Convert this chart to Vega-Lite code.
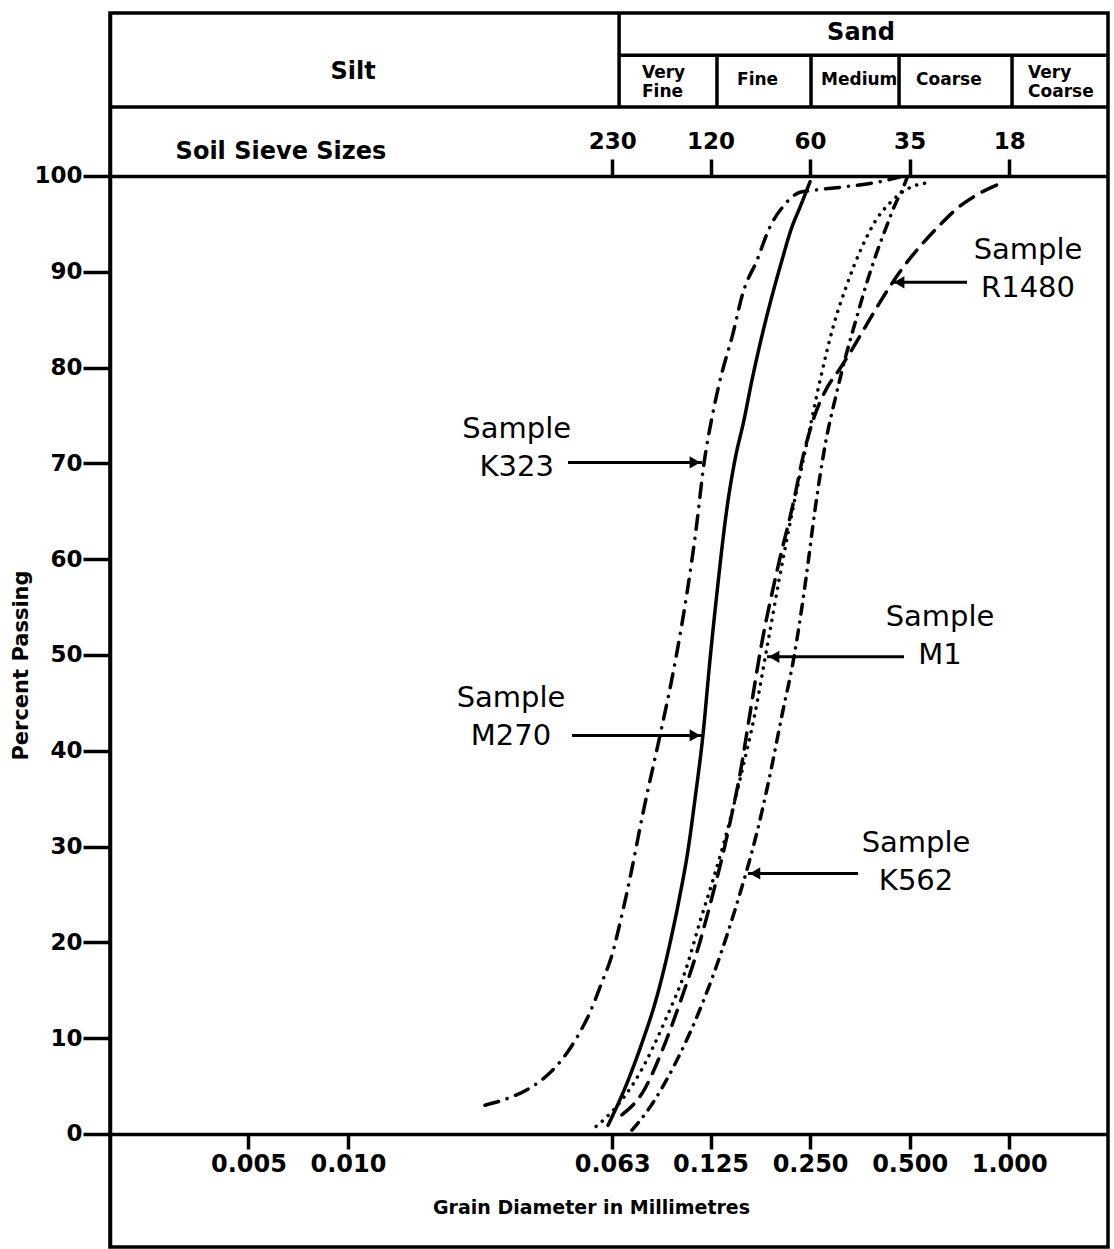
{
  "$schema": "https://vega.github.io/schema/vega-lite/v6.json",
  "width": 998,
  "height": 1234,
  "autosize": {"type": "none"},
  "padding": {"left": 110, "top": 13, "right": 6, "bottom": 2},
  "background": "white",
  "config": {
    "view": {"stroke": "black", "strokeWidth": 3.5},
    "axis": {
      "domainColor": "black", "domainWidth": 3.5, "tickColor": "black", "tickWidth": 3.5,
      "labelColor": "black", "labelFont": "DejaVu Sans", "labelFontWeight": "bold", "labelFontSize": 23,
      "titleColor": "black", "titleFont": "DejaVu Sans", "titleFontWeight": "bold",
      "grid": false, "labelFlush": false, "labelOverlap": false
    }
  },
  "datasets": {
    "curves": [
      {"sample": "K323", "d": 0.02598, "p": 3.0},
      {"sample": "K323", "d": 0.03092, "p": 3.8},
      {"sample": "K323", "d": 0.03555, "p": 4.8},
      {"sample": "K323", "d": 0.0403, "p": 6.2},
      {"sample": "K323", "d": 0.04473, "p": 7.9},
      {"sample": "K323", "d": 0.04932, "p": 10.1},
      {"sample": "K323", "d": 0.05398, "p": 12.7},
      {"sample": "K323", "d": 0.05828, "p": 15.6},
      {"sample": "K323", "d": 0.06293, "p": 18.7},
      {"sample": "K323", "d": 0.06743, "p": 22.9},
      {"sample": "K323", "d": 0.0718, "p": 27.2},
      {"sample": "K323", "d": 0.07806, "p": 33.5},
      {"sample": "K323", "d": 0.08789, "p": 41.6},
      {"sample": "K323", "d": 0.09623, "p": 48.1},
      {"sample": "K323", "d": 0.1061, "p": 56.5},
      {"sample": "K323", "d": 0.1129, "p": 63.0},
      {"sample": "K323", "d": 0.1194, "p": 70.0},
      {"sample": "K323", "d": 0.1271, "p": 75.3},
      {"sample": "K323", "d": 0.1325, "p": 78.2},
      {"sample": "K323", "d": 0.1462, "p": 83.6},
      {"sample": "K323", "d": 0.1566, "p": 87.8},
      {"sample": "K323", "d": 0.1727, "p": 91.2},
      {"sample": "K323", "d": 0.1891, "p": 94.7},
      {"sample": "K323", "d": 0.207, "p": 96.8},
      {"sample": "K323", "d": 0.2331, "p": 98.3},
      {"sample": "K323", "d": 0.2552, "p": 98.5},
      {"sample": "K323", "d": 0.3234, "p": 98.9},
      {"sample": "K323", "d": 0.4069, "p": 99.4},
      {"sample": "K323", "d": 0.4677, "p": 99.9},
      {"sample": "M270", "d": 0.0612, "p": 0.9},
      {"sample": "M270", "d": 0.06983, "p": 5.3},
      {"sample": "M270", "d": 0.07806, "p": 9.8},
      {"sample": "M270", "d": 0.08547, "p": 14.0},
      {"sample": "M270", "d": 0.09294, "p": 19.0},
      {"sample": "M270", "d": 0.1003, "p": 24.4},
      {"sample": "M270", "d": 0.1068, "p": 29.6},
      {"sample": "M270", "d": 0.1121, "p": 34.9},
      {"sample": "M270", "d": 0.1185, "p": 41.6},
      {"sample": "M270", "d": 0.1245, "p": 49.5},
      {"sample": "M270", "d": 0.1307, "p": 56.5},
      {"sample": "M270", "d": 0.1402, "p": 65.4},
      {"sample": "M270", "d": 0.1482, "p": 70.4},
      {"sample": "M270", "d": 0.1577, "p": 74.5},
      {"sample": "M270", "d": 0.1668, "p": 78.7},
      {"sample": "M270", "d": 0.1776, "p": 82.9},
      {"sample": "M270", "d": 0.1905, "p": 87.1},
      {"sample": "M270", "d": 0.2055, "p": 91.2},
      {"sample": "M270", "d": 0.2189, "p": 94.4},
      {"sample": "M270", "d": 0.2347, "p": 97.0},
      {"sample": "M270", "d": 0.2499, "p": 99.4},
      {"sample": "M1", "d": 0.0563, "p": 0.8},
      {"sample": "M1", "d": 0.0599, "p": 1.6},
      {"sample": "M1", "d": 0.07645, "p": 6.4},
      {"sample": "M1", "d": 0.091, "p": 11.8},
      {"sample": "M1", "d": 0.1053, "p": 17.2},
      {"sample": "M1", "d": 0.1169, "p": 22.5},
      {"sample": "M1", "d": 0.1271, "p": 26.5},
      {"sample": "M1", "d": 0.1462, "p": 34.0},
      {"sample": "M1", "d": 0.1534, "p": 37.0},
      {"sample": "M1", "d": 0.1703, "p": 43.9},
      {"sample": "M1", "d": 0.1852, "p": 50.8},
      {"sample": "M1", "d": 0.2014, "p": 57.8},
      {"sample": "M1", "d": 0.2204, "p": 64.8},
      {"sample": "M1", "d": 0.243, "p": 71.7},
      {"sample": "M1", "d": 0.2661, "p": 78.2},
      {"sample": "M1", "d": 0.2933, "p": 84.2},
      {"sample": "M1", "d": 0.3211, "p": 88.4},
      {"sample": "M1", "d": 0.359, "p": 92.6},
      {"sample": "M1", "d": 0.3958, "p": 95.4},
      {"sample": "M1", "d": 0.4363, "p": 97.2},
      {"sample": "M1", "d": 0.4843, "p": 98.5},
      {"sample": "M1", "d": 0.5302, "p": 99.1},
      {"sample": "M1", "d": 0.5765, "p": 99.3},
      {"sample": "R1480", "d": 0.0674, "p": 2.0},
      {"sample": "R1480", "d": 0.0781, "p": 4.4},
      {"sample": "R1480", "d": 0.0897, "p": 8.9},
      {"sample": "R1480", "d": 0.1017, "p": 14.0},
      {"sample": "R1480", "d": 0.1137, "p": 19.0},
      {"sample": "R1480", "d": 0.1271, "p": 25.1},
      {"sample": "R1480", "d": 0.1373, "p": 29.7},
      {"sample": "R1480", "d": 0.1462, "p": 34.0},
      {"sample": "R1480", "d": 0.1524, "p": 37.0},
      {"sample": "R1480", "d": 0.1645, "p": 43.9},
      {"sample": "R1480", "d": 0.1776, "p": 50.8},
      {"sample": "R1480", "d": 0.1986, "p": 58.8},
      {"sample": "R1480", "d": 0.2235, "p": 66.2},
      {"sample": "R1480", "d": 0.238, "p": 70.7},
      {"sample": "R1480", "d": 0.2552, "p": 74.5},
      {"sample": "R1480", "d": 0.2793, "p": 77.7},
      {"sample": "R1480", "d": 0.308, "p": 79.9},
      {"sample": "R1480", "d": 0.3349, "p": 81.9},
      {"sample": "R1480", "d": 0.3666, "p": 84.2},
      {"sample": "R1480", "d": 0.4013, "p": 86.5},
      {"sample": "R1480", "d": 0.4424, "p": 88.8},
      {"sample": "R1480", "d": 0.4911, "p": 91.0},
      {"sample": "R1480", "d": 0.549, "p": 93.0},
      {"sample": "R1480", "d": 0.618, "p": 94.9},
      {"sample": "R1480", "d": 0.7006, "p": 96.7},
      {"sample": "R1480", "d": 0.8054, "p": 98.1},
      {"sample": "R1480", "d": 0.9515, "p": 99.3},
      {"sample": "K562", "d": 0.0723, "p": 0.4},
      {"sample": "K562", "d": 0.082, "p": 2.8},
      {"sample": "K562", "d": 0.0969, "p": 7.1},
      {"sample": "K562", "d": 0.1145, "p": 12.5},
      {"sample": "K562", "d": 0.128, "p": 16.8},
      {"sample": "K562", "d": 0.1412, "p": 21.1},
      {"sample": "K562", "d": 0.1534, "p": 25.1},
      {"sample": "K562", "d": 0.1599, "p": 27.2},
      {"sample": "K562", "d": 0.1727, "p": 31.5},
      {"sample": "K562", "d": 0.1878, "p": 37.0},
      {"sample": "K562", "d": 0.2055, "p": 43.7},
      {"sample": "K562", "d": 0.2235, "p": 49.8},
      {"sample": "K562", "d": 0.243, "p": 58.0},
      {"sample": "K562", "d": 0.2588, "p": 65.2},
      {"sample": "K562", "d": 0.2793, "p": 72.4},
      {"sample": "K562", "d": 0.2995, "p": 77.1},
      {"sample": "K562", "d": 0.3211, "p": 81.3},
      {"sample": "K562", "d": 0.3443, "p": 85.0},
      {"sample": "K562", "d": 0.3691, "p": 88.6},
      {"sample": "K562", "d": 0.3958, "p": 91.8},
      {"sample": "K562", "d": 0.4243, "p": 94.6},
      {"sample": "K562", "d": 0.4517, "p": 97.0},
      {"sample": "K562", "d": 0.4742, "p": 98.5},
      {"sample": "K562", "d": 0.4911, "p": 99.8}
    ],
    "frame": [
      {"x1": 0.001907, "x2": 1.9907, "y1": 107.2, "y2": 107.2},
      {"x1": 0.0661, "x2": 0.0661, "y1": 107.2, "y2": 117.01},
      {"x1": 0.0661, "x2": 1.9907, "y1": 112.6, "y2": 112.6},
      {"x1": 0.1307, "x2": 0.1307, "y1": 107.2, "y2": 112.6},
      {"x1": 0.2516, "x2": 0.2516, "y1": 107.2, "y2": 112.6},
      {"x1": 0.4645, "x2": 0.4645, "y1": 107.2, "y2": 112.6},
      {"x1": 1.0203, "x2": 1.0203, "y1": 107.2, "y2": 112.6}
    ],
    "zones": [
      {"label": "Silt", "x": 0.01036, "y": 110.86},
      {"label": "Sand", "x": 0.3563, "y": 114.93},
      {"label": "Soil Sieve Sizes", "x": 0.006273, "y": 102.5}
    ],
    "sizes": [
      {"label": "Very\nFine", "x": 0.07752, "y": 110.75},
      {"label": "Fine", "x": 0.1503, "y": 110.02},
      {"label": "Medium", "x": 0.2698, "y": 110.02},
      {"label": "Coarse", "x": 0.5229, "y": 110.02},
      {"label": "Very\nCoarse", "x": 1.1406, "y": 110.75}
    ],
    "samples": [
      {"label": "Sample\nK323", "x": 0.0324, "y": 73.6},
      {"label": "Sample\nM270", "x": 0.03114, "y": 45.5},
      {"label": "Sample\nR1480", "x": 1.1406, "y": 92.3},
      {"label": "Sample\nM1", "x": 0.618, "y": 54.0},
      {"label": "Sample\nK562", "x": 0.5229, "y": 30.4}
    ],
    "arrows": [
      {"sample": "K323", "from": 0.04632, "to": 0.1177, "head": 0.1121, "y": 70.1, "dir": "right"},
      {"sample": "M270", "from": 0.04763, "to": 0.1177, "head": 0.1121, "y": 41.6, "dir": "right"},
      {"sample": "R1480", "from": 0.7459, "to": 0.4424, "head": 0.4645, "y": 88.9, "dir": "left"},
      {"sample": "M1", "from": 0.4809, "to": 0.1852, "head": 0.1945, "y": 49.8, "dir": "left"},
      {"sample": "K562", "from": 0.3492, "to": 0.1622, "head": 0.1703, "y": 27.2, "dir": "left"}
    ]
  },
  "resolve": {"axis": {"x": "independent", "y": "independent"}},
  "layer": [
    {
      "data": {"name": "curves"},
      "mark": {"type": "line", "interpolate": "monotone", "strokeWidth": 3.5, "strokeCap": "round", "color": "black"},
      "encoding": {
        "x": {
          "field": "d", "type": "quantitative",
          "scale": {"type": "log", "domain": [0.001907, 1.9907], "nice": false},
          "axis": {
            "orient": "bottom", "offset": -113,
            "values": [0.005, 0.01, 0.063, 0.125, 0.25, 0.5, 1],
            "format": ".3f", "tickSize": 15, "labelPadding": 3, "labelFontSize": 24,
            "title": "Grain Diameter in Millimetres", "titleFontSize": 19,
            "titleX": 481, "titleY": 73, "titleAlign": "center", "titleBaseline": "middle"
          }
        },
        "y": {
          "field": "p", "type": "quantitative",
          "scale": {"domain": [-11.8, 117.01], "nice": false, "zero": false},
          "axis": {
            "orient": "left",
            "values": [0, 10, 20, 30, 40, 50, 60, 70, 80, 90, 100],
            "tickSize": 27, "labelPadding": 1,
            "title": "Percent  Passing", "titleFontSize": 21,
            "titleX": -89, "titleY": 652, "titleAngle": -90, "titleAlign": "center", "titleBaseline": "middle"
          }
        },
        "strokeDash": {
          "field": "sample", "type": "nominal",
          "scale": {
            "domain": ["K323", "M270", "M1", "R1480", "K562"],
            "range": [[14, 9, 0.1, 9], [1, 0], [0.1, 8], [16, 10], [10, 8, 0.1, 8]]
          },
          "legend": null
        }
      }
    },
    {
      "data": {"name": "frame"},
      "mark": {"type": "rule", "strokeWidth": 3.5, "color": "black"},
      "encoding": {
        "x": {
          "field": "x1", "type": "quantitative",
          "scale": {"type": "log", "domain": [0.001907, 1.9907], "nice": false},
          "axis": {
            "orient": "top", "offset": -163,
            "values": [0.063, 0.125, 0.25, 0.5, 1],
            "labelExpr": "datum.value < 0.1 ? '230' : datum.value < 0.2 ? '120' : datum.value < 0.3 ? '60' : datum.value < 0.7 ? '35' : '18'",
            "tickSize": 17, "labelPadding": 6, "labelFontSize": 23, "title": null
          }
        },
        "x2": {"field": "x2"},
        "y": {"field": "y1", "type": "quantitative", "scale": {"domain": [-11.8, 117.01], "nice": false, "zero": false}, "axis": null},
        "y2": {"field": "y2"}
      }
    },
    {
      "data": {"name": "zones"},
      "mark": {"type": "text", "font": "DejaVu Sans", "fontWeight": "bold", "fontSize": 24, "align": "center", "baseline": "middle", "color": "black"},
      "encoding": {
        "x": {"field": "x", "type": "quantitative", "scale": {"type": "log", "domain": [0.001907, 1.9907], "nice": false}, "axis": null},
        "y": {"field": "y", "type": "quantitative", "scale": {"domain": [-11.8, 117.01], "nice": false, "zero": false}, "axis": null},
        "text": {"field": "label"}
      }
    },
    {
      "data": {"name": "sizes"},
      "mark": {"type": "text", "font": "DejaVu Sans", "fontWeight": "bold", "fontSize": 17, "align": "left", "baseline": "middle", "lineBreak": "\n", "lineHeight": 19, "color": "black"},
      "encoding": {
        "x": {"field": "x", "type": "quantitative", "scale": {"type": "log", "domain": [0.001907, 1.9907], "nice": false}, "axis": null},
        "y": {"field": "y", "type": "quantitative", "scale": {"domain": [-11.8, 117.01], "nice": false, "zero": false}, "axis": null},
        "text": {"field": "label"}
      }
    },
    {
      "data": {"name": "arrows"},
      "mark": {"type": "rule", "strokeWidth": 3, "color": "black"},
      "encoding": {
        "x": {"field": "from", "type": "quantitative", "scale": {"type": "log", "domain": [0.001907, 1.9907], "nice": false}, "axis": null},
        "x2": {"field": "to"},
        "y": {"field": "y", "type": "quantitative", "scale": {"domain": [-11.8, 117.01], "nice": false, "zero": false}, "axis": null}
      }
    },
    {
      "data": {"name": "arrows"},
      "mark": {"type": "point", "filled": true, "size": 150, "color": "black", "opacity": 1},
      "encoding": {
        "x": {"field": "head", "type": "quantitative", "scale": {"type": "log", "domain": [0.001907, 1.9907], "nice": false}, "axis": null},
        "y": {"field": "y", "type": "quantitative", "scale": {"domain": [-11.8, 117.01], "nice": false, "zero": false}, "axis": null},
        "shape": {"field": "dir", "type": "nominal", "scale": {"domain": ["right", "left"], "range": ["triangle-right", "triangle-left"]}, "legend": null}
      }
    },
    {
      "data": {"name": "samples"},
      "mark": {"type": "text", "font": "DejaVu Sans", "fontSize": 29, "align": "center", "baseline": "middle", "lineBreak": "\n", "lineHeight": 38, "color": "black"},
      "encoding": {
        "x": {"field": "x", "type": "quantitative", "scale": {"type": "log", "domain": [0.001907, 1.9907], "nice": false}, "axis": null},
        "y": {"field": "y", "type": "quantitative", "scale": {"domain": [-11.8, 117.01], "nice": false, "zero": false}, "axis": null},
        "text": {"field": "label"}
      }
    }
  ]
}
